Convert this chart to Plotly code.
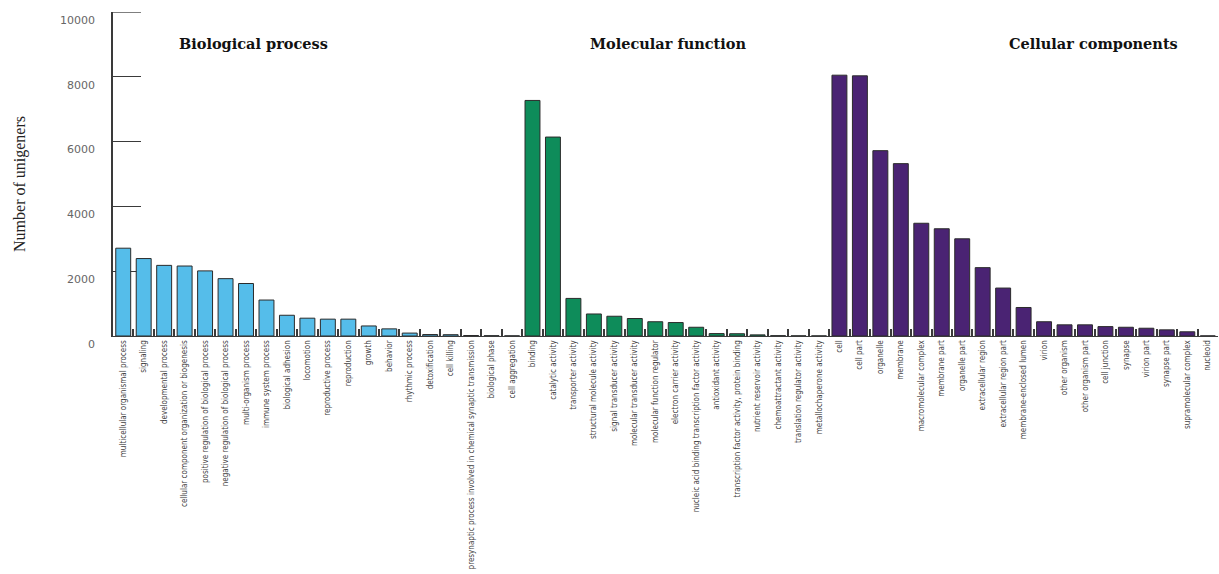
import plotly.graph_objects as go

# GO term counts per ontology
bp_terms = [
    "multicellular organismal process", "signaling", "developmental process",
    "cellular component organization or biogenesis",
    "positive regulation of biological process",
    "negative regulation of biological process", "multi-organism process",
    "immune system process", "biological adhesion", "locomotion",
    "reproductive process", "reproduction", "growth", "behavior",
    "rhythmic process", "detoxification", "cell killing",
    "presynaptic process involved in chemical synaptic transmission",
    "biological phase", "cell aggregation",
]
bp_counts = [2710, 2390, 2180, 2160, 2010, 1770, 1620, 1110, 640, 550,
             520, 520, 310, 220, 90, 45, 40, 15, 10, 5]

mf_terms = [
    "binding", "catalytic activity", "transporter activity",
    "structural molecule activity", "signal transducer activity",
    "molecular transducer activity", "molecular function regulator",
    "electron carrier activity",
    "nucleic acid binding transcription factor activity",
    "antioxidant activity", "transcription factor activity, protein binding",
    "nutrient reservoir activity", "chemoattractant activity",
    "translation regulator activity", "metallochaperone activity",
]
mf_counts = [7270, 6140, 1160, 680, 610, 540, 440, 415, 270, 75, 70, 35, 10, 5, 3]

cc_terms = [
    "cell", "cell part", "organelle", "membrane", "macromolecular complex",
    "membrane part", "organelle part", "extracellular region",
    "extracellular region part", "membrane-enclosed lumen", "virion",
    "other organism", "other organism part", "cell junction", "synapse",
    "virion part", "synapse part", "supramolecular complex", "nucleoid",
]
cc_counts = [8050, 8030, 5720, 5320, 3480, 3310, 3000, 2110, 1480, 880,
             440, 345, 345, 290, 270, 240, 190, 130, 3]

y_ticks = [0, 2000, 4000, 6000, 8000, 10000]
y_max = 10000

groups = [
    ("Biological process", bp_terms, bp_counts, "#55BDEA"),
    ("Molecular function", mf_terms, mf_counts, "#0E8C5A"),
    ("Cellular components", cc_terms, cc_counts, "#4A2373"),
]

fig = go.Figure()
for name, terms, counts, color in groups:
    fig.add_trace(go.Bar(
        x=terms, y=counts, name=name,
        marker=dict(color=color, line=dict(color="#2b2b2b", width=1)),
        showlegend=False,
    ))

all_terms = bp_terms + mf_terms + cc_terms
axis_color = "#3a3a3a"

plot_h = 325
fig.update_layout(
    width=1219, height=574,
    margin=dict(l=113, r=1, t=11.5, b=237.5, autoexpand=False),
    paper_bgcolor="white", plot_bgcolor="white",
    barmode="relative", bargap=0.27,
    xaxis=dict(
        type="category", categoryorder="array", categoryarray=all_terms,
        range=[-0.5, len(all_terms) - 0.5],
        showline=True, linecolor=axis_color, linewidth=1.2,
        ticks="inside", tickson="boundaries", ticklen=7, tickwidth=1.6,
        tickcolor=axis_color, tickangle=-90,
        tickfont=dict(family="Liberation Sans Narrow, DejaVu Sans Condensed, Arial Narrow, sans-serif",
                      size=8, color="#3f3f3f"),
        showgrid=False, zeroline=False, automargin=False,
    ),
    yaxis=dict(
        range=[0, y_max], tickvals=y_ticks,
        ticktext=[str(v) for v in y_ticks],
        showline=True, linecolor=axis_color, linewidth=1.5,
        ticks="inside", ticklen=28, tickwidth=1.3, tickcolor=axis_color,
        tickfont=dict(family="DejaVu Sans", size=11, color="#666666"),
        ticklabelstandoff=14, ticklabelshift=8,
        showgrid=False, zeroline=False, automargin=False,
        layer="below traces",
    ),
    font=dict(family="Liberation Serif"),
)

# closing tick at the top of the value axis
fig.add_shape(
    type="line", xref="paper", yref="y",
    x0=0, x1=28 / 1105, y0=y_max, y1=y_max,
    line=dict(color=axis_color, width=1.3), layer="below",
)

# ontology headings above each block of bars
title_font = dict(family="DejaVu Serif, serif", size=14.5, color="#111111")
for text, xc in [("Biological process", 253), ("Molecular function", 668),
                 ("Cellular components", 1093)]:
    fig.add_annotation(
        text=f"<b>{text}</b>", xref="paper", yref="paper",
        x=(xc - 113) / 1105, y=(336.5 - 43) / plot_h,
        xanchor="center", yanchor="middle", showarrow=False, font=title_font,
    )

# y-axis title
fig.add_annotation(
    text="Number of unigeners", xref="paper", yref="paper",
    x=(20 - 113) / 1105, y=(336.5 - 184) / plot_h, textangle=-90,
    xanchor="center", yanchor="middle", showarrow=False,
    font=dict(family="Liberation Serif, Times New Roman, serif", size=16, color="#222222"),
)

fig.write_html("out.html")
